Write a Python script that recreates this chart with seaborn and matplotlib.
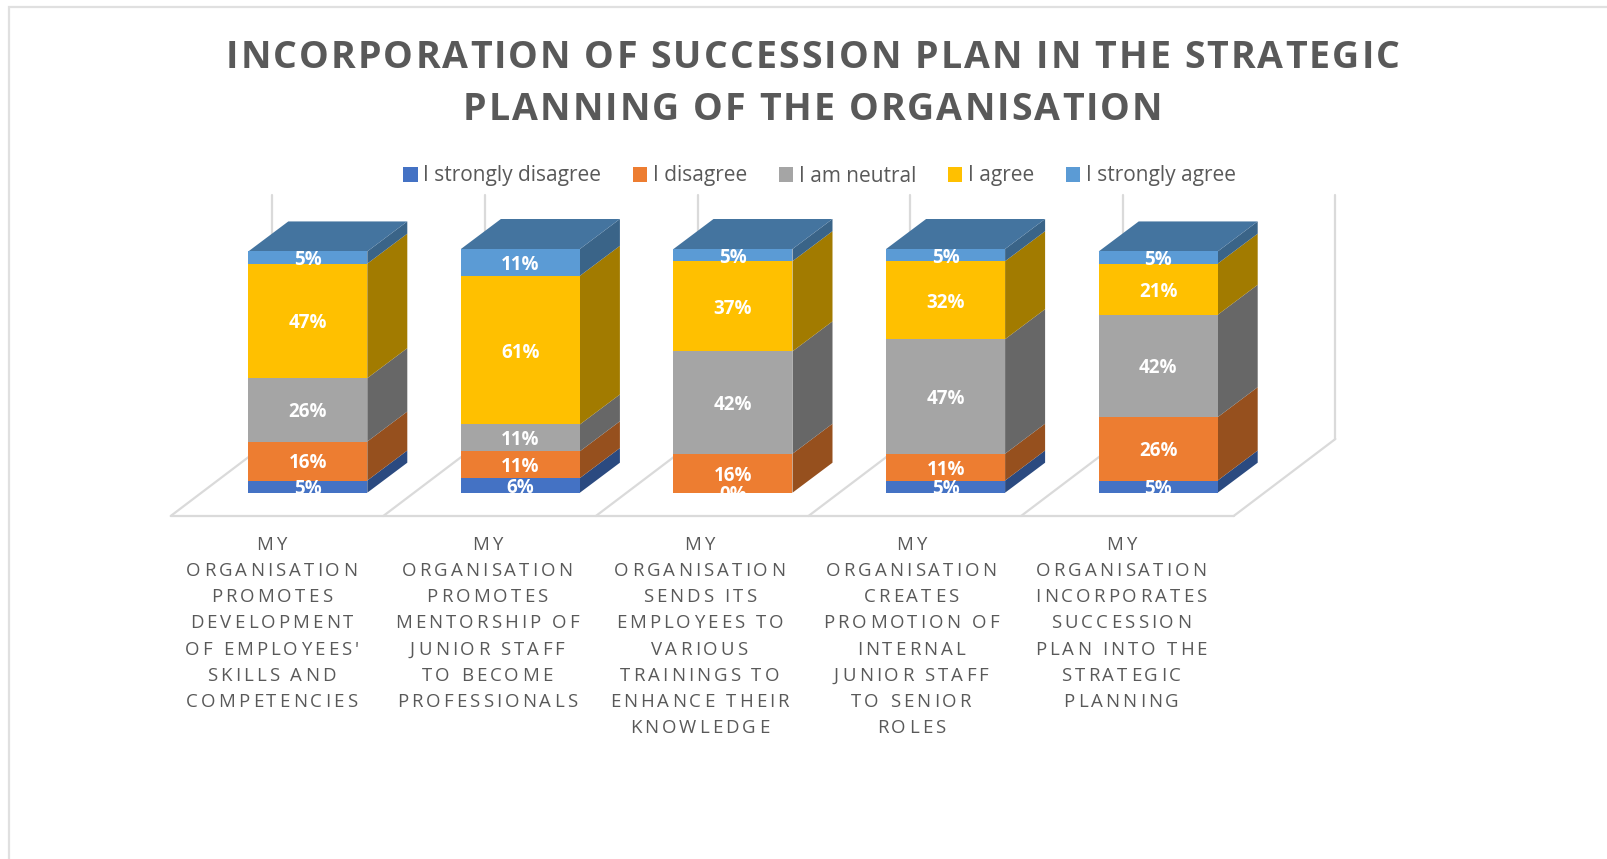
import matplotlib
matplotlib.use("Agg")
import matplotlib.pyplot as plt
from matplotlib import font_manager
from matplotlib.ft2font import LoadFlags
from matplotlib.patches import Polygon, Rectangle
from matplotlib.text import Text
from matplotlib.transforms import Bbox
import seaborn as sns

# Survey responses, in percent, per statement
statements = [
    "MY\nORGANISATION\nPROMOTES\nDEVELOPMENT\nOF EMPLOYEES'\nSKILLS AND\nCOMPETENCIES",
    "MY\nORGANISATION\nPROMOTES\nMENTORSHIP OF\nJUNIOR STAFF\nTO BECOME\nPROFESSIONALS",
    "MY\nORGANISATION\nSENDS ITS\nEMPLOYEES TO\nVARIOUS\nTRAININGS TO\nENHANCE THEIR\nKNOWLEDGE",
    "MY\nORGANISATION\nCREATES\nPROMOTION OF\nINTERNAL\nJUNIOR STAFF\nTO SENIOR\nROLES",
    "MY\nORGANISATION\nINCORPORATES\nSUCCESSION\nPLAN INTO THE\nSTRATEGIC\nPLANNING",
]
chart_title = "INCORPORATION OF SUCCESSION PLAN IN THE STRATEGIC\nPLANNING OF THE ORGANISATION"
strongly_disagree = [5, 6, 0, 5, 5]
disagree = [16, 11, 16, 11, 26]
neutral = [26, 11, 42, 47, 42]
agree = [47, 61, 37, 32, 21]
strongly_agree = [5, 11, 5, 5, 5]

series_names = ["I strongly disagree", "I disagree", "I am neutral", "I agree", "I strongly agree"]
series_values = [strongly_disagree, disagree, neutral, agree, strongly_agree]
front_colors = ["#4472C4", "#ED7D31", "#A5A5A5", "#FFC000", "#5B9BD5"]
side_colors = ["#2B4A80", "#96501E", "#676767", "#A27B00", "#3A6488"]
top_color = "#44749F"
grid_color = "#DADADA"
text_color = "#595959"

W, H = 1608, 859


class TrackedText(Text):
    """Centred multi-line text with extra spacing between letters (in pixels)."""

    def __init__(self, x, y, text, tracking=0.0, line_px=20.0, **kwargs):
        super().__init__(x, y, text, **kwargs)
        self.tracking = tracking
        self.line_px = line_px

    def _advances(self, line):
        fp = self.get_fontproperties()
        font = font_manager.get_font(font_manager.findfont(fp))
        font.set_size(fp.get_size_in_points(), self.get_figure().dpi)
        return [font.load_char(ord(c), flags=LoadFlags.NO_HINTING).linearHoriAdvance / 65536 + self.tracking
                for c in line]

    def _layout(self):
        # The anchor is the centre of the first line's baseline
        x, y = self.get_transform().transform(self.get_unitless_position())
        rows = []
        for k, line in enumerate(self.get_text().split("\n")):
            adv = self._advances(line)
            rows.append((line, adv, x - (sum(adv) - self.tracking) / 2, y - k * self.line_px))
        return rows

    def draw(self, renderer):
        if not self.get_visible():
            return
        gc = renderer.new_gc()
        gc.set_foreground(self.get_color())
        fp = self.get_fontproperties()
        for line, adv, left, base in self._layout():
            pen = left
            for ch, a in zip(line, adv):
                if ch != " ":
                    renderer.draw_text(gc, pen, renderer.height - base, ch, fp, 0, ismath=False)
                pen += a
        gc.restore()
        self.stale = False

    def get_window_extent(self, renderer=None, dpi=None):
        rows = self._layout()
        x0 = min(r[2] for r in rows)
        x1 = max(r[2] + sum(r[1]) - self.tracking for r in rows)
        return Bbox([[x0, rows[-1][3]], [x1, rows[0][3] + self.line_px * 0.75]])


sns.set_theme(style="white")
plt.rcParams["font.family"] = ["Open Sans", "DejaVu Sans"]
fig = plt.figure(figsize=(W / 100, H / 100), dpi=100, facecolor="white")

# Plot area: pixels per unit set the scales below
px_per_cat = 212.6
px_per_pct = 2.437
base_px, top_px = 492.7, 190.0
left_px, right_px = 170.0, 1340.0
x0_px = 307.8
xlim = ((left_px - x0_px) / px_per_cat, (right_px - x0_px) / px_per_cat)
ylim = (0, (base_px - top_px) / px_per_pct)
ax = fig.add_axes([left_px / W, 1 - base_px / H, (right_px - left_px) / W, (base_px - top_px) / H])
ax.axis("off")

bar_width = 119 / px_per_cat
depth_x = 40 / px_per_cat
depth_y = 30 / px_per_pct
floor_front = -23.3 / px_per_pct
floor_back = 53.7 / px_per_pct
floor_dx = 101.7 / px_per_cat
wall_top = (base_px - 195) / px_per_pct
n = len(statements)
floor_left = -0.645

# Floor and back wall
line_kw = dict(color=grid_color, lw=1.6, clip_on=False, zorder=1, solid_capstyle="round")
ax.plot([floor_left, floor_left + n], [floor_front, floor_front], **line_kw)
for i in range(n + 1):
    fx = floor_left + i
    ax.plot([fx, fx + floor_dx], [floor_front, floor_back], **line_kw)
    ax.plot([fx + floor_dx, fx + floor_dx], [floor_back, wall_top], **line_kw)

# Stacked front faces
bottoms = [0] * n
for name, values, color in zip(series_names, series_values, front_colors):
    sns.barplot(x=list(range(n)), y=values, bottom=bottoms, color=color, saturation=1, linewidth=0,
                width=bar_width, native_scale=True, label=name, ax=ax, zorder=3, legend=False)
    bottoms = [b + v for b, v in zip(bottoms, values)]
ax.set_xlim(*xlim)
ax.set_ylim(*ylim)
ax.axis("off")

# Extruded side and top faces, derived from the same stacks
bottoms = [0] * n
for values, color in zip(series_values, side_colors):
    for i, v in enumerate(values):
        xr = i + bar_width / 2
        b, t = bottoms[i], bottoms[i] + v
        ax.add_patch(Polygon([(xr, b), (xr + depth_x, b + depth_y), (xr + depth_x, t + depth_y), (xr, t)],
                             closed=True, fc=color, ec="none", zorder=2.5, clip_on=False))
        # Percentage labels are clipped by the axes at the baseline
        ax.text(i, b + v / 2 - 1.0, f"{v}%", ha="center", va="center", color="white",
                fontsize=13.5, fontweight="bold", zorder=5, clip_on=True)
    bottoms = [b + v for b, v in zip(bottoms, values)]
for i, total in enumerate(bottoms):
    xl, xr = i - bar_width / 2, i + bar_width / 2
    ax.add_patch(Polygon([(xl, total), (xr, total), (xr + depth_x, total + depth_y), (xl + depth_x, total + depth_y)],
                         closed=True, fc=top_color, ec="none", zorder=2.6, clip_on=False))

# Letter-spaced category labels, centred under their floor segments
label_centres_px = [271.5, 487, 699.5, 911, 1121]
for cx, label in zip(label_centres_px, statements):
    fig.add_artist(TrackedText(cx / W, 1 - 550 / H, label, tracking=3.1, line_px=26.15, transform=fig.transFigure,
                               fontsize=13.4, color=text_color, zorder=6))

fig.add_artist(TrackedText(812.8 / W, 1 - 68 / H, chart_title, tracking=2.05, line_px=52, transform=fig.transFigure,
                           fontsize=27, fontweight="bold", color=text_color, zorder=6))

handles = [Rectangle((0, 0), 1, 1, fc=c, ec="none") for c in front_colors]
fig.legend(handles, series_names, ncol=5, loc="center", bbox_to_anchor=(819.5 / W, 1 - 176 / H),
           frameon=False, fontsize=15, labelcolor=text_color, handlelength=0.7, handleheight=0.7,
           handletextpad=0.28, columnspacing=1.5)

# Chart frame
fig.add_artist(Rectangle((9.5 / W, -0.01), 1.2, 1 - 7 / H + 0.01, transform=fig.transFigure,
                         fc="none", ec="#E0E0E0", lw=1.6))

fig.savefig("out.png", dpi=100, facecolor="white")
